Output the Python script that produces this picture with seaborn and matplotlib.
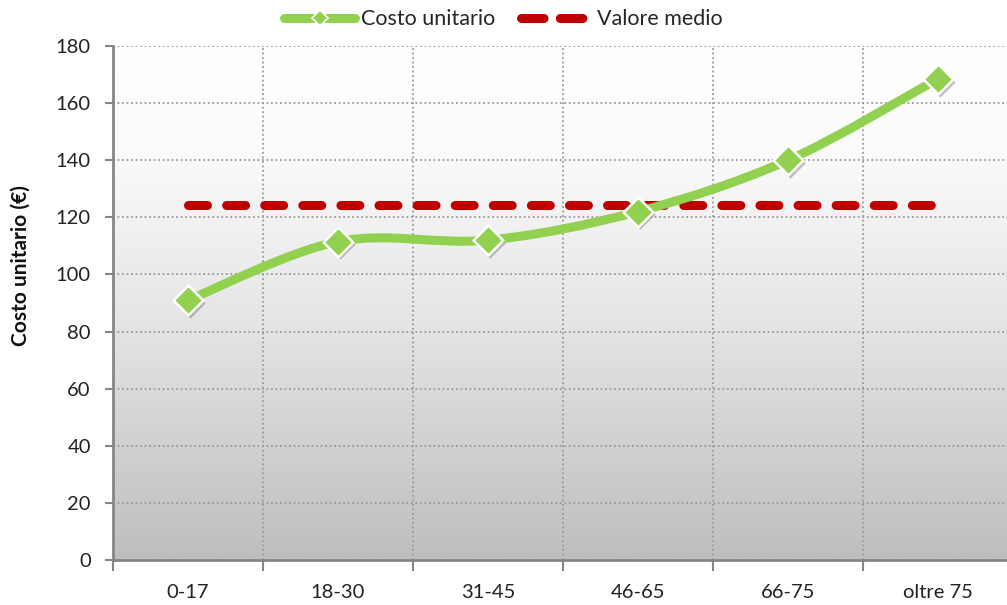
import numpy as np
import pandas as pd
import matplotlib
matplotlib.use("Agg")
import matplotlib.pyplot as plt
import seaborn as sns
from matplotlib.path import Path
from matplotlib.patches import PathPatch
from matplotlib.lines import Line2D
from matplotlib import transforms

categories = ["0-17", "18-30", "31-45", "46-65", "66-75", "oltre 75"]
costo_unitario = [91, 111.5, 112, 122, 140, 168.5]
valore_medio = [124.2] * 6
y_ticks = [0, 20, 40, 60, 80, 100, 120, 140, 160, 180]

sns.set_theme(style="white")
plt.rcParams['font.family'] = ['Lato', 'DejaVu Sans']

GREEN = "#92D050"
RED = "#C00000"
AXIS = "#868686"

fig = plt.figure(figsize=(10.07, 6.05), dpi=100)
ax = fig.add_axes([113/1007, 1-560/605, 900/1007, (560-46)/605])

x = np.arange(len(categories))
df = pd.DataFrame({"cat": categories, "x": x, "costo": costo_unitario, "medio": valore_medio})

# gradient background (white at top to grey at bottom)
grad = np.linspace(0, 1, 256).reshape(-1, 1)
cmap = matplotlib.colors.LinearSegmentedColormap.from_list(
    "bg", [(0, "#FFFFFF"), (0.2, "#FBFBFB"), (0.55, "#E4E4E4"), (1, "#BEBEBE")])
ax.imshow(grad, cmap=cmap, aspect="auto", extent=[0, 1, 0, 1],
          origin="upper", transform=ax.transAxes, zorder=0)

ax.set_xlim(-0.5, 5.5)
ax.set_ylim(0, 180)

# grid
for yv in y_ticks[1:]:
    ax.axhline(yv, color="#9A9A9A", lw=1.3, ls=(0, (1, 1.5)), zorder=1)
for xv in np.arange(0.5, 5.6, 1):
    ax.axvline(xv, color="#9A9A9A", lw=1.3, ls=(0, (1, 1.5)), zorder=1)

# mean line
sns.lineplot(data=df, x="x", y="medio", ax=ax, color=RED, lw=6.5,
             zorder=3, legend=False)
ml = ax.lines[-1]
ml.set_dashes((2.1, 2.12))
ml.set_dash_capstyle("round")

# smooth cost line (Catmull-Rom bezier through data points)
pts = np.column_stack([x, costo_unitario]).astype(float)
ext = np.vstack([pts[0], pts, pts[-1]])
verts = [tuple(pts[0])]
codes = [Path.MOVETO]
for i in range(len(pts) - 1):
    p0, p1, p2, p3 = ext[i], ext[i+1], ext[i+2], ext[i+3]
    c1 = p1 + (p2 - p0) / 6
    c2 = p2 - (p3 - p1) / 6
    verts += [tuple(c1), tuple(c2), tuple(p2)]
    codes += [Path.CURVE4] * 3
patch = PathPatch(Path(verts, codes), fill=False, edgecolor=GREEN, lw=6.5,
                  capstyle="round", joinstyle="round", zorder=4)
ax.add_patch(patch)

# marker shadow
shadow_tr = transforms.offset_copy(ax.transData, fig=fig, x=1.5, y=-2, units="points")
ax.scatter(x, costo_unitario, marker="D", s=240, color="#555555", alpha=0.35,
           transform=shadow_tr, zorder=4.5, linewidths=0)
sns.scatterplot(data=df, x="x", y="costo", ax=ax, marker="D", s=230,
                color=GREEN, edgecolor="white", linewidth=1.8, zorder=5,
                legend=False)

# axes styling
for s in ["top", "right"]:
    ax.spines[s].set_visible(False)
for s in ["left", "bottom"]:
    ax.spines[s].set_color(AXIS)
    ax.spines[s].set_linewidth(2)
    ax.spines[s].set_zorder(2)

ax.set_yticks(y_ticks)
ax.set_yticklabels([str(v) for v in y_ticks], fontsize=14.5, color="#222222")
ax.tick_params(axis="y", which="major", direction="out", length=6, width=1.5,
               color=AXIS, pad=10, left=True)

ax.set_xticks(np.arange(-0.5, 5.6, 1))
ax.set_xticklabels([])
ax.set_xticks(x, minor=True)
ax.set_xticklabels(categories, minor=True, fontsize=14.5, color="#222222")
ax.tick_params(axis="x", which="major", direction="out", length=8, width=1.5,
               color=AXIS, bottom=True)
ax.tick_params(axis="x", which="minor", length=0, pad=17, bottom=True)

ax.set_xlabel("")
ax.set_ylabel("Costo unitario (€)", fontsize=15, fontweight="bold",
              color="#111111")
ax.yaxis.set_label_coords(-0.092, 0.572)

handles = [
    Line2D([], [], color=GREEN, lw=6.5, marker="D", markersize=8,
           markerfacecolor=GREEN, markeredgecolor="white", markeredgewidth=1.2),
    Line2D([], [], color=RED, lw=6.5, dashes=(2.5, 1.8), dash_capstyle="round"),
]
fig.legend(handles, ["Costo unitario", "Valore medio"], loc="center",
           bbox_to_anchor=(0.5, 0.968), ncol=2, frameon=False, fontsize=15.5,
           handlelength=3.3, handletextpad=0.25, columnspacing=1.2, numpoints=1)

fig.savefig("out.png", dpi=100)
